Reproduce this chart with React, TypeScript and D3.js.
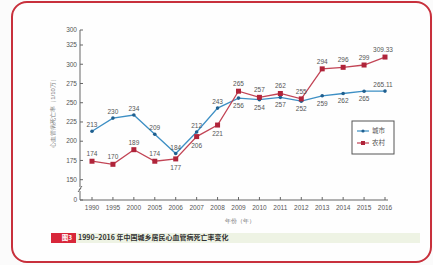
import React, { useEffect, useRef } from 'react';
import * as d3 from 'd3';

const years = ['1990', '1995', '2000', '2005', '2006', '2007', '2008', '2009', '2010', '2011', '2012', '2013', '2014', '2015', '2016'];
const urban = [213, 230, 234, 209, 184, 212, 243, 256, 254, 257, 252, 259, 262, 265, 265.11];
const rural = [174, 170, 189, 174, 177, 206, 221, 265, 257, 262, 255, 294, 296, 299, 309.33];
const urbanLabels = ['213', '230', '234', '209', '184', '212', '243', '256', '254', '257', '252', '259', '262', '265', '265.11'];
const ruralLabels = ['174', '170', '189', '174', '177', '206', '221', '265', '257', '262', '255', '294', '296', '299', '309.33'];
const yTicks = [0, 150, 175, 200, 225, 250, 275, 300, 325, 350];
const yTickLabels = ['0', '150', '175', '200', '225', '250', '275', '300', '325', '300'];

const BLUE = '#3d8fc4';
const BLUE_DOT = '#1f5f8f';
const RED = '#c24455';
const RED_DOT = '#b0243a';
const TXT = '#555';

const App = () => {
  const svgRef = useRef(null);

  useEffect(() => {
    const svg = d3.select(svgRef.current);
    svg.selectAll('*').remove();
    const width = 433;
    const height = 265;

    svg.append('rect').attr('width', width).attr('height', height).attr('fill', '#fbfbfb');
    // outer red frame
    svg.append('rect')
      .attr('x', 12).attr('y', 2).attr('width', 419).attr('height', 260)
      .attr('rx', 15).attr('fill', '#fefefe')
      .attr('stroke', '#c8303c').attr('stroke-width', 2);

    const x = d3.scalePoint().domain(years).range([92, 385]);
    const y = d3.scaleLinear().domain([0, 150, 325, 350]).range([200, 179.7, 45, 30]);
    const axisX0 = 80;

    const g = svg.append('g').style('font-family', 'Liberation Sans, Arial, sans-serif');

    // y axis
    g.append('line').attr('x1', axisX0).attr('x2', axisX0).attr('y1', y(350)).attr('y2', 200)
      .attr('stroke', '#666').attr('stroke-width', 1);
    yTicks.forEach((t, i) => {
      g.append('line').attr('x1', axisX0).attr('x2', axisX0 + 3).attr('y1', y(t)).attr('y2', y(t))
        .attr('stroke', '#666');
      g.append('text').attr('x', axisX0 - 3).attr('y', y(t)).attr('dy', '0.35em')
        .attr('text-anchor', 'end').style('font-size', '6.5px').attr('fill', TXT)
        .text(yTickLabels[i]);
    });
    // axis break mark
    g.append('rect').attr('x', axisX0 - 2).attr('y', 187).attr('width', 4).attr('height', 4).attr('fill', '#fefefe');
    g.append('path').attr('d', `M${axisX0 - 2},192 L${axisX0 + 1},188 M${axisX0 - 1},190 L${axisX0 + 2},186`)
      .attr('stroke', '#666').attr('fill', 'none');

    // x axis
    g.append('line').attr('x1', axisX0).attr('x2', 388).attr('y1', 200).attr('y2', 200)
      .attr('stroke', '#666');
    years.forEach(yr => {
      g.append('line').attr('x1', x(yr)).attr('x2', x(yr)).attr('y1', 200).attr('y2', 197).attr('stroke', '#666');
      g.append('text').attr('x', x(yr)).attr('y', 210).attr('text-anchor', 'middle')
        .style('font-size', '6.5px').attr('fill', TXT).text(yr);
    });

    g.append('text').attr('x', 240).attr('y', 223).attr('text-anchor', 'middle')
      .style('font-size', '6px').attr('fill', '#777').text('年份（年）');
    g.append('text').attr('transform', 'translate(55,112) rotate(-90)').attr('text-anchor', 'middle')
      .style('font-size', '6px').attr('fill', '#777').text('心血管病死亡率（1/10万）');

    const line = d3.line().x((d, i) => x(years[i])).y(d => y(d));

    g.append('path').datum(urban).attr('d', line).attr('fill', 'none').attr('stroke', BLUE).attr('stroke-width', 1.3);
    g.append('path').datum(rural).attr('d', line).attr('fill', 'none').attr('stroke', RED).attr('stroke-width', 1.3);

    urban.forEach((v, i) => {
      g.append('circle').attr('cx', x(years[i])).attr('cy', y(v)).attr('r', 1.8).attr('fill', BLUE_DOT);
    });
    rural.forEach((v, i) => {
      g.append('rect').attr('x', x(years[i]) - 2.5).attr('y', y(v) - 2.5).attr('width', 5).attr('height', 5).attr('fill', RED_DOT);
    });

    // value labels
    urban.forEach((v, i) => {
      const below = i >= 7 && i <= 13;
      g.append('text').attr('x', x(years[i]) + (i === 14 ? -2 : 0)).attr('y', y(v) + (below ? 10 : -4))
        .attr('text-anchor', 'middle').style('font-size', '6.5px').attr('fill', TXT).text(urbanLabels[i]);
    });
    rural.forEach((v, i) => {
      const below = i >= 4 && i <= 6;
      g.append('text').attr('x', x(years[i]) + (i === 14 ? -2 : 0)).attr('y', y(v) + (below ? 11 : -5))
        .attr('text-anchor', 'middle').style('font-size', '6.5px').attr('fill', TXT).text(ruralLabels[i]);
    });

    // legend
    const lg = g.append('g');
    lg.append('rect').attr('x', 352).attr('y', 121).attr('width', 42).attr('height', 33)
      .attr('fill', '#fff').attr('stroke', '#555').attr('stroke-width', 1);
    [['城市', BLUE, BLUE_DOT, 'c'], ['农村', RED, RED_DOT, 's']].forEach(([name, lc, dc, m], i) => {
      const yy = 131 + i * 12;
      lg.append('line').attr('x1', 357).attr('x2', 369).attr('y1', yy).attr('y2', yy).attr('stroke', lc).attr('stroke-width', 1.2);
      if (m === 'c') {
        lg.append('circle').attr('cx', 363).attr('cy', yy).attr('r', 1.6).attr('fill', dc);
      } else {
        lg.append('rect').attr('x', 361).attr('y', yy - 2).attr('width', 4).attr('height', 4).attr('fill', dc);
      }
      lg.append('text').attr('x', 372).attr('y', yy).attr('dy', '0.35em').style('font-size', '6.5px')
        .attr('fill', TXT).style('font-family', 'Noto Sans CJK SC').text(name);
    });

    // caption
    svg.append('rect').attr('x', 76).attr('y', 233).attr('width', 344).attr('height', 10).attr('fill', '#eef3e4');
    svg.append('rect').attr('x', 51).attr('y', 233).attr('width', 25).attr('height', 10).attr('fill', '#d8273a');
    svg.append('text').attr('x', 67).attr('y', 238).attr('dy', '0.35em').attr('text-anchor', 'middle')
      .style('font-size', '6.5px').style('font-weight', 'bold').attr('fill', '#fff')
      .style('font-family', 'Noto Sans CJK SC').text('图3');
    svg.append('text').attr('x', 78).attr('y', 238).attr('dy', '0.35em')
      .style('font-size', '7px').style('font-weight', 'bold').attr('fill', '#333')
      .style('font-family', 'Noto Sans CJK SC').text('1990–2016 年中国城乡居民心血管病死亡率变化');
  }, []);

  return (
    <svg ref={svgRef} width={433} height={265} style={{ position: 'absolute', left: 0, top: 0 }}></svg>
  );
};

export default App;
